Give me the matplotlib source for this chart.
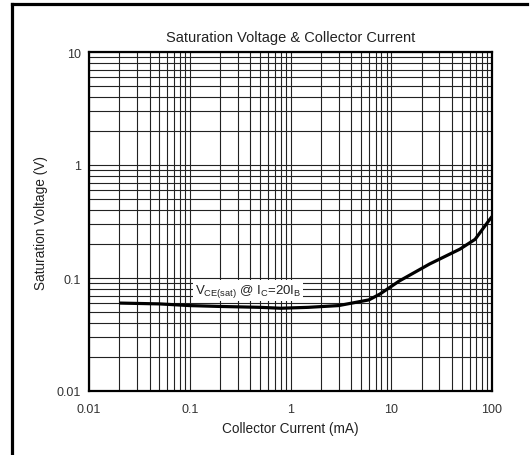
import numpy as np
import matplotlib
matplotlib.use('Agg')
from matplotlib import pyplot as plt
from matplotlib.lines import Line2D

plt.rcParams['font.family'] = ['Liberation Sans', 'DejaVu Sans']
plt.rcParams['mathtext.fontset'] = 'custom'
plt.rcParams['mathtext.rm'] = 'Liberation Sans'

# collector current (mA) and saturation voltage (V)
ic_ma = [0.02, 0.05, 0.1, 0.2, 0.5, 0.8, 1.5, 3, 6, 7.7, 12, 24, 48, 68, 95, 100]
vce_sat = [0.060, 0.059, 0.057, 0.056, 0.055, 0.054, 0.055, 0.057, 0.064,
           0.072, 0.094, 0.133, 0.18, 0.22, 0.33, 0.35]

x_ticks = [0.01, 0.1, 1, 10, 100]
x_labels = ['0.01', '0.1', '1', '10', '100']
y_ticks = [0.01, 0.1, 1, 10]
y_labels = ['0.01', '0.1', '1', '10']

fig = plt.figure(figsize=(5.32, 4.56), dpi=100)
ax = fig.add_axes([89/532, 1-392/456, 403/532, 339/456])

ax.plot(ic_ma, vce_sat, color='black', lw=2.3, solid_capstyle='butt', zorder=3)

ax.set_xscale('log')
ax.set_yscale('log')
ax.set_xlim(0.01, 100)
ax.set_ylim(0.01, 10)
ax.set_xticks(x_ticks)
ax.set_xticklabels(x_labels)
ax.set_yticks(y_ticks)
ax.set_yticklabels(y_labels)
ax.tick_params(which='both', length=0, labelsize=9, colors='#333333')
ax.tick_params(axis='x', pad=9)
ax.tick_params(axis='y', pad=6)
ax.grid(True, which='both', color='#222222', lw=0.8)
for s in ax.spines.values():
    s.set_linewidth(1.6)

ax.set_title('Saturation Voltage & Collector Current', fontsize=10.5, color='#222222', pad=8)
ax.set_xlabel('Collector Current (mA)', fontsize=9.8, color='#222222', labelpad=4)
ax.set_ylabel('Saturation Voltage (V)', fontsize=9.8, color='#222222', labelpad=6)

ax.text(0.38, 0.078, r'V$_{\rm CE(sat)}$ @ I$_{\rm C}$=20I$_{\rm B}$', fontsize=9.5,
        color='#222222', ha='center', va='center', zorder=4,
        bbox=dict(facecolor='white', edgecolor='none', pad=1.5))

# outer frame: left and top edges only, the rest is cut off
fig.lines.append(Line2D([11.5/532, 11.5/532], [0, 1-4.5/456], transform=fig.transFigure,
                        color='black', lw=2.3, solid_capstyle='projecting'))
fig.lines.append(Line2D([11.5/532, 527/532], [1-4.5/456, 1-4.5/456], transform=fig.transFigure,
                        color='black', lw=2.3, solid_capstyle='projecting'))

fig.savefig('out.png', dpi=100)
